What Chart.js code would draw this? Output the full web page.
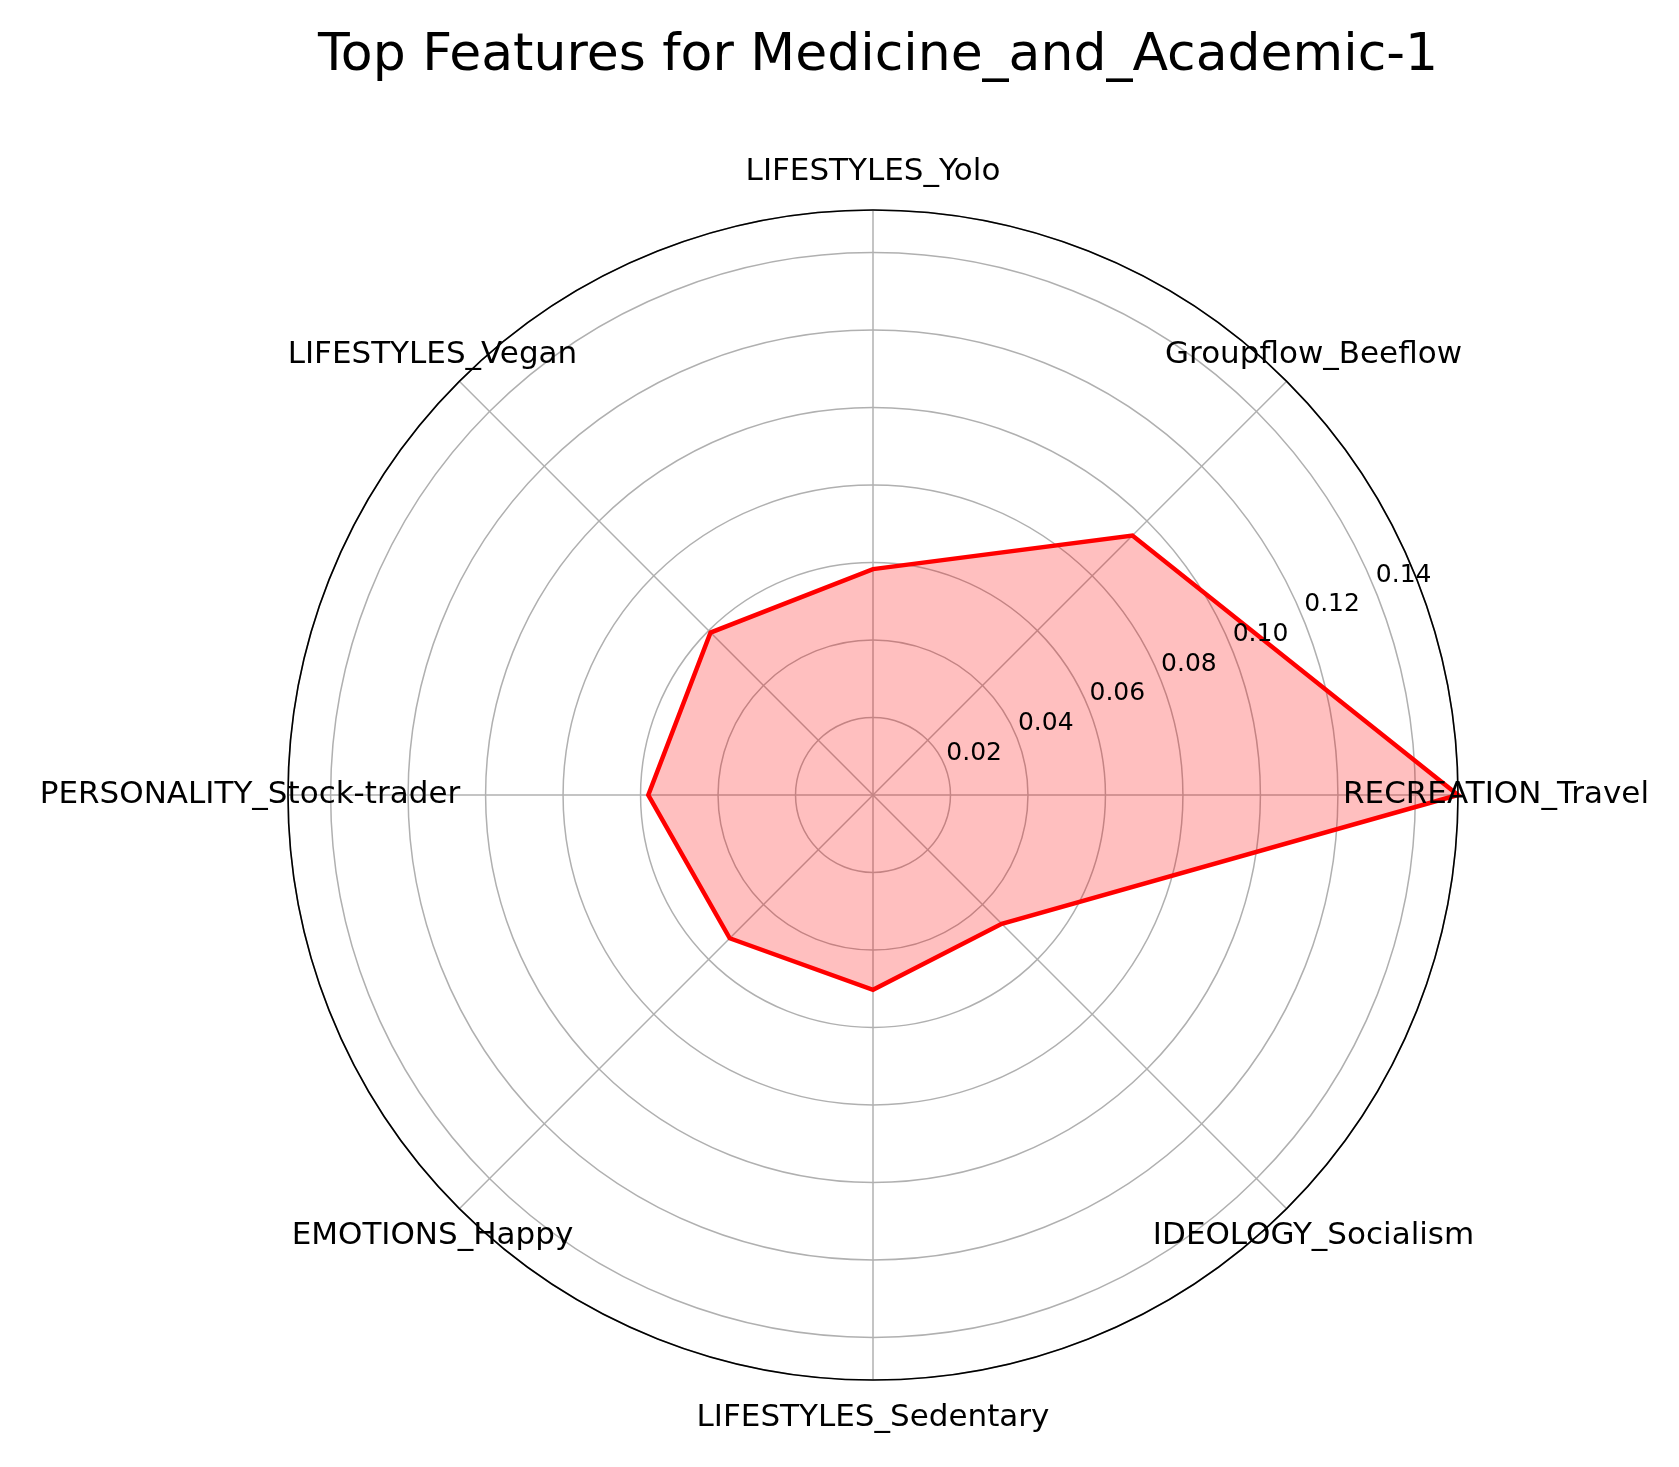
<!DOCTYPE html>
<html>
<head>
<meta charset="utf-8">
<script src="https://cdn.jsdelivr.net/npm/chart.js@4"></script>
<style>
  body { margin: 0; background: #fff; }
  #wrap { width: 1679px; height: 1467px; }
</style>
</head>
<body>
<div id="wrap"><canvas id="radar"></canvas></div>
<script>
// clockwise from the top, like Chart.js draws it
const features = [
  "LIFESTYLES_Yolo", "Groupflow_Beeflow", "RECREATION_Travel", "IDEOLOGY_Socialism",
  "LIFESTYLES_Sedentary", "EMOTIONS_Happy", "PERSONALITY_Stock-trader", "LIFESTYLES_Vegan"
];
const importance = [0.0583, 0.0947, 0.151, 0.047, 0.0503, 0.0523, 0.058, 0.0593];
const tickValues = [0.02, 0.04, 0.06, 0.08, 0.10, 0.12, 0.14];
const rMax = 0.151;

const fontFam = "'DejaVu Sans', sans-serif";

const overlay = {
  id: "overlay",
  afterDraw(chart) {
    const ctx = chart.ctx;
    const s = chart.scales.r;
    const R = s.drawingArea;
    ctx.save();
    // outer black circle
    ctx.beginPath();
    ctx.arc(s.xCenter, s.yCenter, R, 0, Math.PI * 2);
    ctx.strokeStyle = "#000";
    ctx.lineWidth = 1.6;
    ctx.stroke();
    ctx.fillStyle = "#000";
    ctx.textAlign = "center";
    ctx.textBaseline = "middle";
    // tick labels along 22.5 degrees
    ctx.font = "25px " + fontFam;
    tickValues.forEach(v => {
      const p = s.getPointPosition(1.5, s.getDistanceFromCenterForValue(v) + 32);
      ctx.fillText(v.toFixed(2), p.x, p.y);
    });
    // category labels
    ctx.font = "31px " + fontFam;
    features.forEach((f, i) => {
      const p = s.getPointPosition(i, R * 1.065);
      ctx.fillText(f, p.x, p.y);
    });
    // title
    ctx.font = "52px " + fontFam;
    ctx.fillText("Top Features for Medicine_and_Academic-1", 878, 56);
    ctx.restore();
  }
};

new Chart(document.getElementById("radar"), {
  type: "radar",
  data: {
    labels: features,
    datasets: [
      {
        data: importance,
        borderColor: "#ff0000",
        backgroundColor: "rgba(255,0,0,0.25)",
        borderWidth: 4.5,
        pointRadius: 0,
        fill: true,
      },
    ],
  },
  options: {
    responsive: true,
    maintainAspectRatio: false,
    animation: false,
    layout: {
      padding: { left: 288, right: 220, top: 210, bottom: 86 },
    },
    scales: {
      r: {
        min: 0,
        max: rMax,
        beginAtZero: true,
        angleLines: { color: "#b0b0b0", lineWidth: 1.5 },
        grid: {
          circular: true,
          color: "#b0b0b0",
          lineWidth: 1.5,
        },
        ticks: {
          display: false,
          stepSize: 0.02,
        },
        pointLabels: { display: false },
      },
    },
    plugins: {
      legend: { display: false },
      title: { display: false },
      tooltip: { enabled: false },
    },
  },
  plugins: [overlay],
});
</script>
</body>
</html>
